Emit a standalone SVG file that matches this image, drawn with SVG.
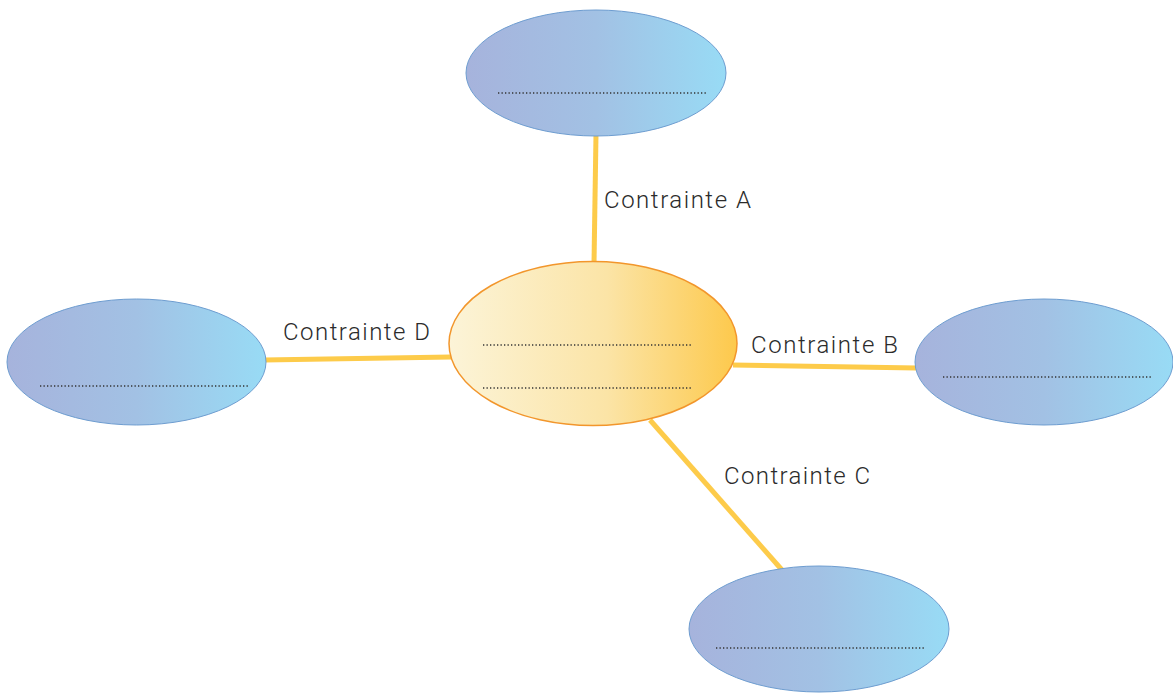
<svg xmlns="http://www.w3.org/2000/svg" width="1173" height="693" viewBox="0 0 1173 693">
<defs>
<linearGradient id="blue" x1="0" y1="0" x2="1" y2="0">
<stop offset="0" stop-color="#A6B3DC"/>
<stop offset="0.5" stop-color="#A2C1E4"/>
<stop offset="1" stop-color="#98DBF5"/>
</linearGradient>
<linearGradient id="orange" x1="0" y1="0" x2="1" y2="0">
<stop offset="0" stop-color="#FCF4D8"/>
<stop offset="0.55" stop-color="#FBE4A6"/>
<stop offset="1" stop-color="#FDC94C"/>
</linearGradient>
<style>
.blue{fill:url(#blue);stroke:#6E9DD0;stroke-width:1}
.center{fill:url(#orange);stroke:#F2962C;stroke-width:1.5}
.dots{stroke:#333;stroke-width:1.5;stroke-dasharray:1.3 2.2;fill:none}
.conn{stroke:#FDCB4A;stroke-width:5;fill:none}
.lbl{font-family:Roboto,"DejaVu Sans",sans-serif;font-size:24px;font-weight:300;fill:#2b2b2b}
</style>
</defs>
<g id="connectors">
<line class="conn" x1="596" y1="134" x2="594" y2="264"/>
<line class="conn" x1="264" y1="360" x2="451" y2="357"/>
<line class="conn" x1="733" y1="365" x2="917" y2="368"/>
<line class="conn" x1="650" y1="420" x2="782" y2="570"/>
</g>
<g id="node-top">
<ellipse class="blue" cx="596" cy="73" rx="130" ry="63"/>
<line class="dots" x1="498" y1="93" x2="707" y2="93"/>
</g>
<g id="node-left">
<ellipse class="blue" cx="136.5" cy="362" rx="129.5" ry="63"/>
<line class="dots" x1="40" y1="386" x2="250" y2="386"/>
</g>
<g id="node-right">
<ellipse class="blue" cx="1044" cy="362" rx="129" ry="63"/>
<line class="dots" x1="943" y1="377" x2="1152" y2="377"/>
</g>
<g id="node-bottom">
<ellipse class="blue" cx="819" cy="629" rx="130" ry="63"/>
<line class="dots" x1="716" y1="648" x2="926" y2="648"/>
</g>
<g id="node-center">
<ellipse class="center" cx="593" cy="343.5" rx="144" ry="82"/>
<line class="dots" x1="483" y1="345" x2="693" y2="345"/>
<line class="dots" x1="483" y1="388" x2="693" y2="388"/>
</g>
<g id="labels">
<text class="lbl" x="604" y="208" textLength="147" lengthAdjust="spacing">Contrainte A</text>
<text class="lbl" x="751" y="353" textLength="147" lengthAdjust="spacing">Contrainte B</text>
<text class="lbl" x="724" y="484" textLength="146" lengthAdjust="spacing">Contrainte C</text>
<text class="lbl" x="283" y="340" textLength="147" lengthAdjust="spacing">Contrainte D</text>
</g>
</svg>
